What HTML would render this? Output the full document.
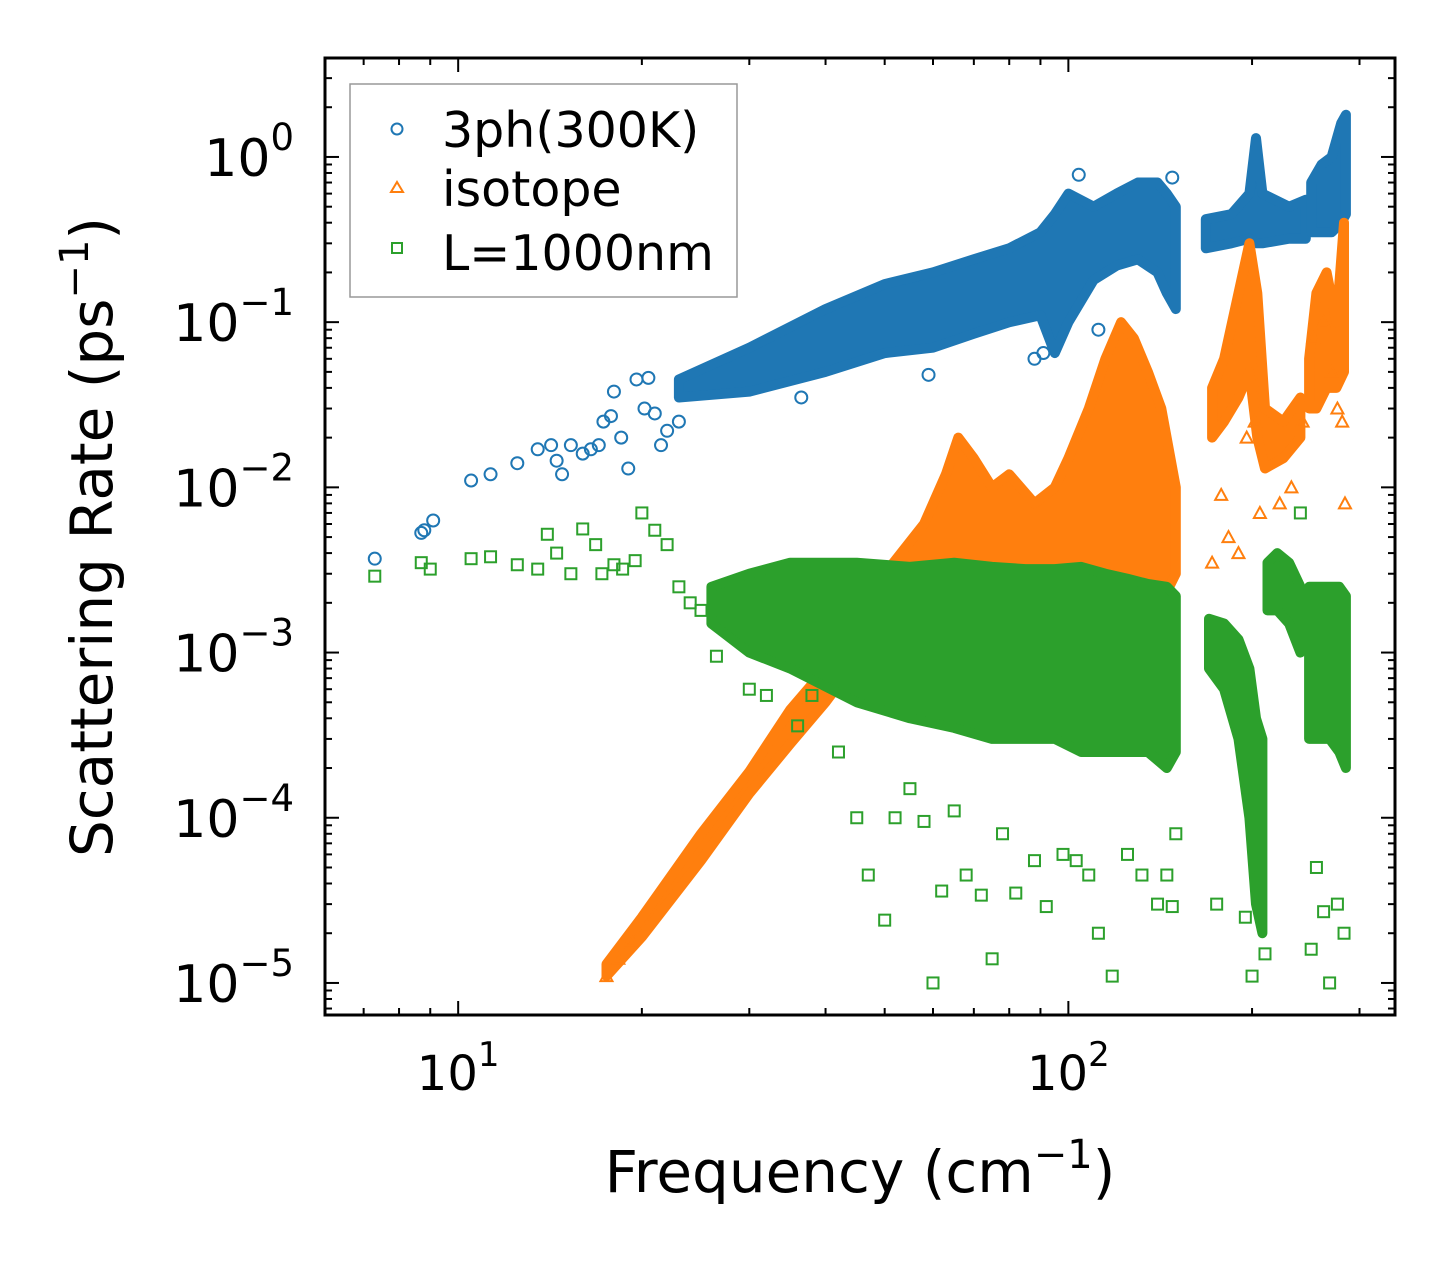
<!DOCTYPE html>
<html><head><meta charset="utf-8"><style>
html,body{margin:0;padding:0;background:#fff}
svg{display:block;font-family:"DejaVu Sans","Liberation Sans",sans-serif}
</style></head><body>
<svg id="chart" width="1455" height="1265" viewBox="0 0 1455 1265" xmlns="http://www.w3.org/2000/svg">
<g id="bands"></g>
<g id="points"></g>
<rect x="325" y="58" width="1070" height="957" fill="none" stroke="#000" stroke-width="3"/>
<g id="ticks"></g>
<text x="860" y="1192" font-size="58" text-anchor="middle">Frequency (cm<tspan dy="-24" font-size="40">−1</tspan><tspan dy="24">)</tspan></text>
<text transform="translate(112,537) rotate(-90)" font-size="58" text-anchor="middle">Scattering Rate (ps<tspan dy="-24" font-size="40">−1</tspan><tspan dy="24">)</tspan></text>
<g>
<rect x="350" y="84" width="387" height="213" fill="#fff" fill-opacity="0.85" stroke="#999" stroke-width="1.5"/>
<circle cx="397" cy="129" r="5.5" fill="none" stroke="#1f77b4" stroke-width="2"/>
<text x="442" y="147" font-size="49">3ph(300K)</text>
<polygon points="397,182 403,192 391,192" fill="none" stroke="#ff7f0e" stroke-width="2"/>
<text x="442" y="206" font-size="49">isotope</text>
<rect x="392" y="243" width="10" height="10" fill="none" stroke="#2ca02c" stroke-width="2"/>
<text x="442" y="270" font-size="49">L=1000nm</text>
</g>
</svg>
<script>
// ---- data (frequency in cm^-1, rates in ps^-1) ----
const blueBandFreq = [[23,30,40,50,60,70,80,90,95,100,110,120,130,140,145,150],[168,185,198,203,208,230,245],[250,260,270,280,285]];
const blueBandLo   = [[0.035,0.038,0.05,0.065,0.07,0.085,0.1,0.11,0.065,0.1,0.18,0.22,0.24,0.2,0.15,0.12],[0.28,0.3,0.32,0.3,0.3,0.32,0.32],[0.35,0.35,0.35,0.4,0.45]];
const blueBandHi   = [[0.045,0.07,0.12,0.17,0.2,0.24,0.28,0.35,0.45,0.6,0.5,0.6,0.7,0.7,0.6,0.5],[0.42,0.45,0.6,1.3,0.6,0.5,0.55],[0.7,0.9,1.0,1.6,1.8]];
const orangeBandFreq = [[17.5,20,25,30,35,40,45,50,58,63,66,70,75,80,88,95,100,108,115,122,128,135,142,150],[172,180,190,198,204,210,225,240],[248,255,265,275,283]];
const orangeBandLo   = [[1.1e-5,1.9e-5,5.5e-5,1.4e-4,2.8e-4,5e-4,9e-4,1.2e-3,1.3e-3,1.4e-3,1.5e-3,1.5e-3,1.5e-3,1.6e-3,1.6e-3,1.7e-3,1.8e-3,2e-3,2e-3,2e-3,2e-3,2e-3,2e-3,3e-3],[0.02,0.025,0.035,0.05,0.02,0.013,0.015,0.02],[0.03,0.03,0.04,0.04,0.05]];
const orangeBandHi   = [[1.3e-5,2.5e-5,8e-5,1.9e-4,4.5e-4,8e-4,1.5e-3,3e-3,6e-3,0.012,0.02,0.015,0.01,0.012,0.008,0.01,0.015,0.03,0.06,0.1,0.08,0.05,0.03,0.01],[0.04,0.06,0.15,0.3,0.15,0.03,0.025,0.035],[0.06,0.15,0.2,0.1,0.4]];
const greenBandFreq = [[26,30,35,45,55,65,75,85,95,105,115,125,135,145,150],[170,180,190,198,203,208],[212,220,230,240],[248,258,268,278,285]];
const greenBandLo   = [[1.5e-3,1e-3,8e-4,5e-4,4e-4,3.5e-4,3e-4,3e-4,3e-4,2.5e-4,2.5e-4,2.5e-4,2.5e-4,2e-4,2.5e-4],[8e-4,6e-4,3e-4,1e-4,3e-5,2e-5],[1.8e-3,1.8e-3,1.5e-3,1e-3],[3e-4,3e-4,3e-4,2.5e-4,2e-4]];
const greenBandHi   = [[2.5e-3,3e-3,3.5e-3,3.5e-3,3.3e-3,3.5e-3,3.3e-3,3.2e-3,3.2e-3,3.3e-3,3e-3,2.8e-3,2.6e-3,2.5e-3,2.2e-3],[1.6e-3,1.5e-3,1.2e-3,8e-4,4e-4,3e-4],[3.5e-3,4e-3,3.5e-3,2.5e-3],[2.5e-3,2.5e-3,2.5e-3,2.5e-3,2.2e-3]];
const blueX = [7.3,8.7,8.8,9.1,10.5,11.3,12.5,13.5,14.2,14.5,14.8,15.3,16.0,16.5,17.0,17.3,17.8,18.0,18.5,19.0,19.6,20.2,20.5,21.0,21.5,22.0,23.0,36.5,59,88,91,104,112,148];
const blueY = [3.7e-3,5.3e-3,5.5e-3,6.3e-3,0.011,0.012,0.014,0.017,0.018,0.0145,0.012,0.018,0.016,0.017,0.018,0.025,0.027,0.038,0.02,0.013,0.045,0.03,0.046,0.028,0.018,0.022,0.025,0.035,0.048,0.06,0.065,0.78,0.09,0.75];
const orangeX = [17.5,18.3,19.2,172,178,183,190,196,202,206,222,232,242,252,262,270,276,281,284];
const orangeY = [1.1e-5,1.4e-5,1.8e-5,3.5e-3,9e-3,5e-3,4e-3,0.02,0.025,7e-3,8e-3,0.01,0.025,0.08,0.1,0.05,0.03,0.025,8e-3];
const greenX = [7.3,8.7,9.0,10.5,11.3,12.5,13.5,14.0,14.5,15.3,16.0,16.8,17.2,18.0,18.6,19.5,20.0,21.0,22.0,23.0,24.0,25.0,26.5,27.0,30,32,36,38,42,45,47,50,52,55,58,60,62,65,68,72,75,78,82,88,92,98,103,108,112,118,125,132,140,145,148,150,175,195,200,205,210,240,250,255,262,268,276,283];
const greenY = [2.9e-3,3.5e-3,3.2e-3,3.7e-3,3.8e-3,3.4e-3,3.2e-3,5.2e-3,4e-3,3e-3,5.6e-3,4.5e-3,3e-3,3.4e-3,3.2e-3,3.6e-3,7e-3,5.5e-3,4.5e-3,2.5e-3,2e-3,1.8e-3,9.5e-4,1.5e-3,6e-4,5.5e-4,3.6e-4,5.5e-4,2.5e-4,1e-4,4.5e-5,2.4e-5,1e-4,1.5e-4,9.5e-5,1e-5,3.6e-5,1.1e-4,4.5e-5,3.4e-5,1.4e-5,8e-5,3.5e-5,5.5e-5,2.9e-5,6e-5,5.5e-5,4.5e-5,2e-5,1.1e-5,6e-5,4.5e-5,3e-5,4.5e-5,2.9e-5,8e-5,3e-5,2.5e-5,1.1e-5,5e-5,1.5e-5,7e-3,1.6e-5,5e-5,2.7e-5,1e-5,3e-5,2e-5];
const xTickVals = [10,100];
const xTickLabels = ["1","2"];
const yTickExps = [0,-1,-2,-3,-4,-5];
// ---- axes ----
const X0=325,X1=1395,Y0=58,Y1=1015;
const xLogMin=Math.log10(6.05), xLogMax=Math.log10(343);
const yLogMin=-5.194, yLogMax=0.599;
const xs=v=>X0+(Math.log10(v)-xLogMin)/(xLogMax-xLogMin)*(X1-X0);
const ys=v=>Y1-(Math.log10(v)-yLogMin)/(yLogMax-yLogMin)*(Y1-Y0);
const NS="http://www.w3.org/2000/svg";
function mk(tag,parent){const e=document.createElementNS(NS,tag);parent.appendChild(e);return e;}
const bands=document.getElementById('bands'), pts=document.getElementById('points'), ticks=document.getElementById('ticks');
function drawBands(F,L,H,color,name){
  for(let s=0;s<F.length;s++){
    let p=[];
    for(let i=0;i<F[s].length;i++)p.push(xs(F[s][i]).toFixed(1)+','+ys(H[s][i]).toFixed(1));
    for(let i=F[s].length-1;i>=0;i--)p.push(xs(F[s][i]).toFixed(1)+','+ys(L[s][i]).toFixed(1));
    const g=mk('polygon',bands);
    
    
    g.setAttribute('points',p.join(' '));
    g.setAttribute('fill',color);g.setAttribute('stroke',color);g.setAttribute('stroke-width','10');g.setAttribute('stroke-linejoin','round');
  }
}
drawBands(blueBandFreq,blueBandLo,blueBandHi,'#1f77b4','3ph');
drawBands(orangeBandFreq,orangeBandLo,orangeBandHi,'#ff7f0e','isotope');
drawBands(greenBandFreq,greenBandLo,greenBandHi,'#2ca02c','boundary');
blueX.forEach((f,i)=>{const c=mk('circle',pts);
  
  
  c.setAttribute('cx',xs(f));c.setAttribute('cy',ys(blueY[i]));c.setAttribute('r',6);c.setAttribute('fill','none');c.setAttribute('stroke','#1f77b4');c.setAttribute('stroke-width',2);});
orangeX.forEach((f,i)=>{const x=xs(f),y=ys(orangeY[i]);const c=mk('polygon',pts);
  
  
  c.setAttribute('points',`${x},${y-6} ${x+6},${y+5} ${x-6},${y+5}`);c.setAttribute('fill','none');c.setAttribute('stroke','#ff7f0e');c.setAttribute('stroke-width',2);});
greenX.forEach((f,i)=>{const x=xs(f),y=ys(greenY[i]);const c=mk('rect',pts);
  
  
  c.setAttribute('x',x-5.5);c.setAttribute('y',y-5.5);c.setAttribute('width',11);c.setAttribute('height',11);c.setAttribute('fill','none');c.setAttribute('stroke','#2ca02c');c.setAttribute('stroke-width',2);});
function line(x1,y1,x2,y2){const l=mk('line',ticks);l.setAttribute('x1',x1);l.setAttribute('y1',y1);l.setAttribute('x2',x2);l.setAttribute('y2',y2);l.setAttribute('stroke','#000');l.setAttribute('stroke-width',2);}
for(let d=0;d<=2;d++)for(let m=1;m<10;m++){const v=m*Math.pow(10,d);if(v<6.05||v>343)continue;const x=xs(v),L=m===1?14:7;line(x,Y1,x,Y1-L);line(x,Y0,x,Y0+L);}
xTickVals.forEach((v,i)=>{const t=mk('text',ticks);
  
  
  t.setAttribute('x',xs(v));t.setAttribute('y',1090);t.setAttribute('font-size','48');t.setAttribute('text-anchor','middle');
  t.innerHTML='10<tspan dy="-24" font-size="34">'+xTickLabels[i]+'</tspan>';});
for(let e=-6;e<=0;e++)for(let m=1;m<10;m++){const v=m*Math.pow(10,e);const y=ys(v);if(y<Y0||y>Y1)continue;const L=m===1?14:7;line(X0,y,X0+L,y);line(X1,y,X1-L,y);}
yTickExps.forEach(e=>{const t=mk('text',ticks);
  
  
  t.setAttribute('x',294);t.setAttribute('y',ys(Math.pow(10,e))+19);t.setAttribute('font-size','52');t.setAttribute('text-anchor','end');
  t.innerHTML='10<tspan dy="-26" font-size="37">'+(e===0?'0':'−'+(-e))+'</tspan>';});
</script>
</body></html>
